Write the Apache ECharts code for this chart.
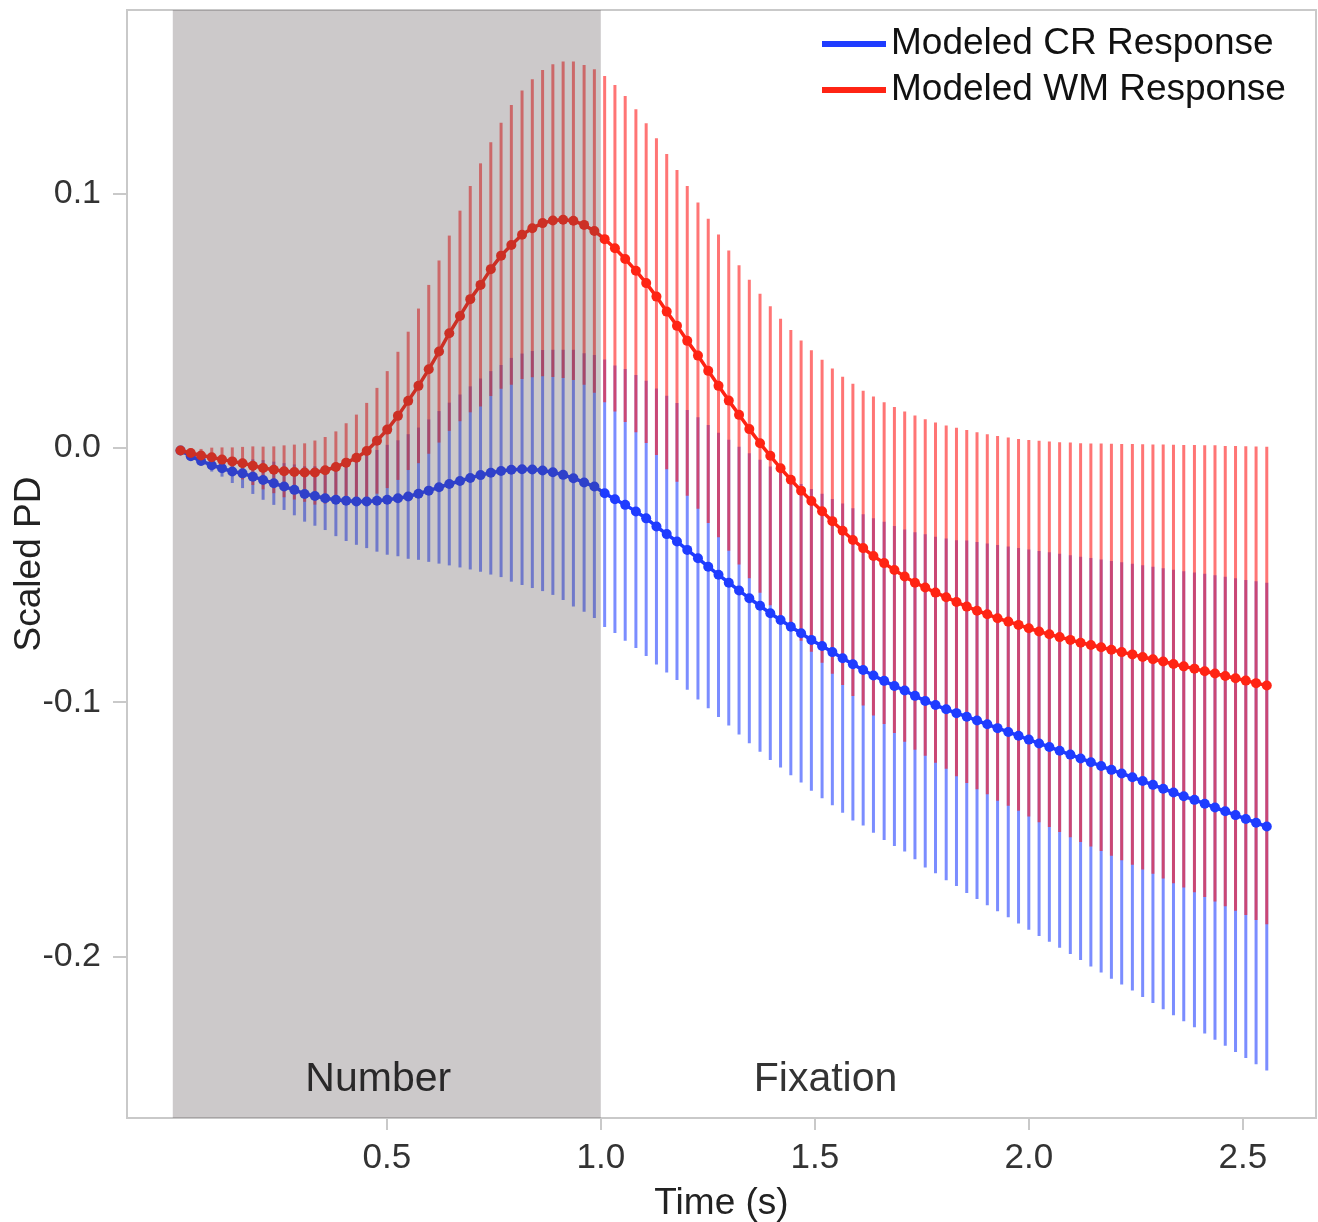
<!DOCTYPE html>
<html>
<head>
<meta charset="utf-8">
<script src="https://cdn.jsdelivr.net/npm/echarts@6/dist/echarts.min.js"></script>
<style>
html,body{margin:0;padding:0;background:#fff;}
#chart{width:1318px;height:1222px;}
</style>
</head>
<body>
<div id="chart"></div>
<script>
// ---- data ----
const times = [0.018,0.042,0.066,0.091,0.115,0.139,0.163,0.187,0.211,0.236,
0.260,0.284,0.308,0.332,0.356,0.381,0.405,0.429,0.453,0.477,
0.501,0.526,0.550,0.574,0.598,0.622,0.646,0.671,0.695,0.719,
0.743,0.767,0.791,0.816,0.840,0.864,0.888,0.912,0.936,0.961,
0.985,1.009,1.033,1.057,1.082,1.106,1.130,1.154,1.178,1.202,
1.227,1.251,1.275,1.299,1.323,1.347,1.372,1.396,1.420,1.444,
1.468,1.492,1.517,1.541,1.565,1.589,1.613,1.637,1.662,1.686,
1.710,1.734,1.758,1.782,1.807,1.831,1.855,1.879,1.903,1.927,
1.952,1.976,2.000,2.024,2.048,2.072,2.097,2.121,2.145,2.169,
2.193,2.217,2.242,2.266,2.290,2.314,2.338,2.362,2.387,2.411,
2.435,2.459,2.483,2.507,2.531,2.556];

const crMean = [-0.0010,-0.0033,-0.0051,-0.0068,-0.0080,-0.0093,-0.0100,-0.0113,-0.0126,-0.0139,
-0.0152,-0.0165,-0.0181,-0.0189,-0.0198,-0.0204,-0.0208,-0.0211,-0.0211,-0.0208,
-0.0204,-0.0198,-0.0191,-0.0180,-0.0168,-0.0155,-0.0142,-0.0130,-0.0118,-0.0107,
-0.0098,-0.0091,-0.0086,-0.0084,-0.0085,-0.0089,-0.0096,-0.0106,-0.0119,-0.0136,
-0.0152,-0.0178,-0.0202,-0.0224,-0.0250,-0.0277,-0.0309,-0.0339,-0.0368,-0.0401,
-0.0434,-0.0467,-0.0499,-0.0530,-0.0561,-0.0591,-0.0621,-0.0650,-0.0677,-0.0703,
-0.0729,-0.0755,-0.0779,-0.0803,-0.0827,-0.0851,-0.0873,-0.0895,-0.0916,-0.0936,
-0.0954,-0.0975,-0.0995,-0.1011,-0.1028,-0.1043,-0.1057,-0.1072,-0.1087,-0.1102,
-0.1117,-0.1132,-0.1147,-0.1162,-0.1176,-0.1191,-0.1206,-0.1221,-0.1236,-0.1251,
-0.1266,-0.1280,-0.1295,-0.1310,-0.1325,-0.1340,-0.1355,-0.1370,-0.1384,-0.1399,
-0.1414,-0.1429,-0.1444,-0.1459,-0.1474,-0.1489];

const crErr = [0.0000,0.0015,0.0018,0.0025,0.0033,0.0045,0.0058,0.0068,0.0078,0.0085,
0.0092,0.0100,0.0109,0.0117,0.0125,0.0143,0.0158,0.0170,0.0183,0.0200,
0.0216,0.0228,0.0245,0.0260,0.0280,0.0300,0.0320,0.0340,0.0360,0.0380,
0.0400,0.0417,0.0440,0.0455,0.0466,0.0474,0.0482,0.0492,0.0505,0.0508,
0.0517,0.0526,0.0526,0.0534,0.0537,0.0541,0.0543,0.0544,0.0545,0.0550,
0.0555,0.0557,0.0559,0.0562,0.0566,0.0570,0.0574,0.0577,0.0580,0.0584,
0.0587,0.0593,0.0599,0.0602,0.0608,0.0614,0.0612,0.0618,0.0626,0.0629,
0.0633,0.0643,0.0655,0.0662,0.0672,0.0680,0.0693,0.0702,0.0711,0.0720,
0.0729,0.0738,0.0748,0.0757,0.0766,0.0775,0.0784,0.0793,0.0803,0.0812,
0.0821,0.0830,0.0839,0.0849,0.0858,0.0867,0.0876,0.0885,0.0894,0.0904,
0.0913,0.0922,0.0931,0.0940,0.0950,0.0959];

const wmMean = [-0.0010,-0.0020,-0.0030,-0.0037,-0.0046,-0.0053,-0.0060,-0.0070,-0.0079,-0.0086,
-0.0092,-0.0095,-0.0097,-0.0097,-0.0088,-0.0075,-0.0058,-0.0039,-0.0012,0.0028,
0.0072,0.0126,0.0185,0.0244,0.0309,0.0379,0.0451,0.0519,0.0585,0.0641,
0.0703,0.0756,0.0798,0.0838,0.0864,0.0884,0.0894,0.0897,0.0893,0.0877,
0.0853,0.0821,0.0785,0.0743,0.0697,0.0648,0.0595,0.0536,0.0480,0.0421,
0.0363,0.0303,0.0244,0.0186,0.0130,0.0074,0.0018,-0.0031,-0.0080,-0.0125,
-0.0168,-0.0209,-0.0249,-0.0288,-0.0326,-0.0362,-0.0394,-0.0425,-0.0453,-0.0480,
-0.0506,-0.0530,-0.0549,-0.0569,-0.0587,-0.0606,-0.0624,-0.0640,-0.0654,-0.0670,
-0.0683,-0.0696,-0.0709,-0.0722,-0.0733,-0.0744,-0.0755,-0.0766,-0.0775,-0.0784,
-0.0794,-0.0803,-0.0812,-0.0822,-0.0831,-0.0840,-0.0850,-0.0859,-0.0868,-0.0878,
-0.0887,-0.0897,-0.0906,-0.0915,-0.0925,-0.0934];

const wmErr = [0.0000,0.0018,0.0026,0.0038,0.0048,0.0055,0.0064,0.0076,0.0084,0.0092,
0.0102,0.0108,0.0115,0.0126,0.0131,0.0140,0.0155,0.0170,0.0189,0.0208,
0.0230,0.0252,0.0272,0.0304,0.0332,0.0358,0.0384,0.0414,0.0445,0.0478,
0.0499,0.0523,0.0550,0.0567,0.0586,0.0602,0.0615,0.0622,0.0626,0.0629,
0.0636,0.0641,0.0642,0.0641,0.0635,0.0629,0.0623,0.0620,0.0613,0.0609,
0.0602,0.0598,0.0595,0.0590,0.0588,0.0587,0.0588,0.0588,0.0588,0.0589,
0.0590,0.0593,0.0596,0.0600,0.0606,0.0614,0.0619,0.0627,0.0633,0.0641,
0.0649,0.0657,0.0662,0.0669,0.0675,0.0685,0.0694,0.0702,0.0708,0.0717,
0.0724,0.0731,0.0740,0.0750,0.0758,0.0766,0.0776,0.0784,0.0792,0.0801,
0.0810,0.0818,0.0827,0.0836,0.0844,0.0853,0.0862,0.0870,0.0879,0.0888,
0.0897,0.0905,0.0914,0.0922,0.0931,0.0939];

const seriesNames = ['Modeled CR Response', 'Modeled WM Response'];
const xTickValues = [0.5, 1.0, 1.5, 2.0, 2.5];
const yTickValues = [-0.2, -0.1, 0.0, 0.1];
const phaseNames = ['Number', 'Fixation'];
const numberPhase = [0.0, 1.0];   // stimulus period (s)

// ---- build ----
const crBars = times.map((t, i) => [t, crMean[i] - crErr[i], crMean[i] + crErr[i]]);
const wmBars = times.map((t, i) => [t, wmMean[i] - wmErr[i], wmMean[i] + wmErr[i]]);
const crLine = times.map((t, i) => [t, crMean[i]]);
const wmLine = times.map((t, i) => [t, wmMean[i]]);

const FONT = '"Liberation Sans", Arial, sans-serif';
const AXIS_GRAY = '#c9c9c9';

function errBarRenderer(color) {
  return function (params, api) {
    const x = api.value(0);
    const p1 = api.coord([x, api.value(1)]);
    const p2 = api.coord([x, api.value(2)]);
    return {
      type: 'line',
      shape: { x1: p1[0], y1: p1[1], x2: p2[0], y2: p2[1] },
      style: { stroke: color, lineWidth: 3 }
    };
  };
}

const chart = echarts.init(document.getElementById('chart'), null, { renderer: 'canvas' });
chart.setOption({
  animation: false,
  backgroundColor: '#ffffff',
  textStyle: { fontFamily: FONT },
  grid: {
    left: 127, right: 2, top: 10, bottom: 104,
    containLabel: false,
    outerBoundsMode: 'none',
    show: true, borderColor: AXIS_GRAY, borderWidth: 2, backgroundColor: 'transparent'
  },
  legend: {
    data: seriesNames,
    orient: 'vertical',
    left: 822, top: 24,
    padding: 0,
    itemGap: 6,
    itemWidth: 64, itemHeight: 6,
    icon: 'rect',
    textStyle: { fontSize: 37, lineHeight: 40, color: '#111', fontFamily: FONT }
  },
  xAxis: {
    type: 'value',
    min: -0.107, max: 2.671,
    name: 'Time (s)',
    nameLocation: 'middle',
    nameGap: 67,
    nameTextStyle: { fontSize: 37, color: '#222', fontFamily: FONT },
    splitLine: { show: false },
    axisLine: { show: true, onZero: false, lineStyle: { color: AXIS_GRAY, width: 2 } },
    axisTick: { show: true, length: 12, customValues: xTickValues, lineStyle: { color: AXIS_GRAY, width: 2 } },
    axisLabel: { customValues: xTickValues, fontSize: 35, color: '#333', margin: 23,
      formatter: v => v.toFixed(1), fontFamily: FONT }
  },
  yAxis: {
    type: 'value',
    min: -0.2635, max: 0.1722,
    name: 'Scaled PD',
    nameLocation: 'middle',
    nameRotate: 90,
    nameGap: 79,
    nameMoveOverlap: false,
    nameTextStyle: { fontSize: 37, color: '#222', fontFamily: FONT },
    splitLine: { show: false },
    axisLine: { show: true, onZero: false, lineStyle: { color: AXIS_GRAY, width: 2 } },
    axisTick: { show: true, length: 14, customValues: yTickValues, lineStyle: { color: AXIS_GRAY, width: 2 } },
    axisLabel: { customValues: yTickValues, fontSize: 34, color: '#333', margin: 26,
      formatter: v => v.toFixed(1), fontFamily: FONT }
  },
  series: [
    {
      type: 'custom', name: 'crBars', z: 2, silent: true, clip: true,
      renderItem: errBarRenderer('rgba(35,65,255,0.6)'),
      encode: { x: 0, y: [1, 2] },
      data: crBars
    },
    {
      type: 'custom', name: 'wmBars', z: 3, silent: true, clip: true,
      renderItem: errBarRenderer('rgba(255,25,25,0.6)'),
      encode: { x: 0, y: [1, 2] },
      data: wmBars
    },
    {
      type: 'line', name: seriesNames[0], z: 4,
      data: crLine,
      symbol: 'circle', symbolSize: 10, showAllSymbol: true,
      color: '#1f3cff',
      itemStyle: { color: '#1f3cff' },
      lineStyle: { color: '#1f3cff', width: 3.5 }
    },
    {
      type: 'line', name: seriesNames[1], z: 5,
      data: wmLine,
      symbol: 'circle', symbolSize: 10, showAllSymbol: true,
      color: '#ff2414',
      itemStyle: { color: '#ff2414' },
      lineStyle: { color: '#ff2414', width: 3.5 }
    },
    {
      type: 'custom', name: 'phaseShade', z: 8, silent: true,
      renderItem: function (params, api) {
        const cs = params.coordSys;
        const a = api.coord([api.value(0), 0]);
        const b = api.coord([api.value(1), 0]);
        return {
          type: 'rect',
          shape: { x: a[0], y: cs.y, width: b[0] - a[0], height: cs.height },
          style: { fill: 'rgba(85,75,78,0.30)' }
        };
      },
      encode: { x: [0, 1] },
      data: [numberPhase]
    },
    {
      type: 'scatter', name: 'phaseLabels', z: 9, silent: true,
      symbolSize: 0,
      data: [
        { value: [0.48, -0.2485], name: phaseNames[0] },
        { value: [1.525, -0.2485], name: phaseNames[1] }
      ],
      label: {
        show: true, position: 'inside',
        formatter: p => p.name,
        fontSize: 41, color: '#000', fontFamily: FONT
      }
    }
  ]
});
</script>
</body>
</html>
